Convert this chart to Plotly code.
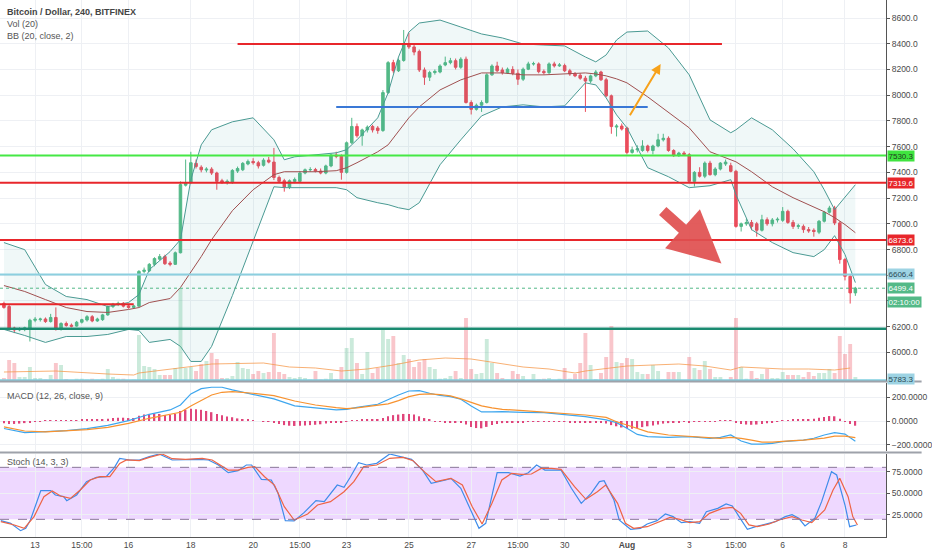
import plotly.graph_objects as go
import pandas as pd

# BTC/USD Bitfinex, 4h candles, 12 Jul - 8 Aug 2018
start = pd.Timestamp("2018-07-12 03:00")

def at(idx):
    # candle index -> candle time
    return [start + pd.Timedelta(hours=4 * k) for k in idx]

opens = [6381, 6357, 6190, 6175, 6178, 6190, 6250, 6255, 6260, 6240,
         6272, 6180, 6225, 6212, 6205, 6235, 6252, 6278, 6245, 6255,
         6292, 6357, 6372, 6382, 6362, 6350, 6360, 6630, 6635, 6685,
         6725, 6745, 6695, 6685, 6775, 7300, 7320, 7470, 7440, 7418,
         7425, 7395, 7335, 7325, 7320, 7410, 7420, 7465, 7485, 7475,
         7455, 7495, 7480, 7360, 7335, 7285, 7330, 7330, 7395, 7420,
         7422, 7410, 7395, 7450, 7535, 7525, 7400, 7630, 7757, 7685,
         7730, 7757, 7745, 7725, 8020, 8253, 8190, 8270, 8400, 8375,
         8340, 8196, 8140, 8176, 8180, 8235, 8253, 8268, 8217, 8280,
         7943, 7890, 7922, 7943, 8158, 8227, 8196, 8175, 8200, 8170,
         8124, 8202, 8243, 8243, 8185, 8175, 8243, 8228, 8230, 8190,
         8165, 8155, 8132, 8110, 8150, 8180, 8120, 7995, 7752, 7760,
         7745, 7555, 7575, 7570, 7605, 7570, 7605, 7653, 7665, 7570,
         7530, 7550, 7537, 7330, 7400, 7370, 7472, 7382, 7426, 7465,
         7452, 7408, 6980, 7000, 7010, 7000, 6950, 7032, 7000, 7030,
         7027, 7097, 7011, 6980, 6980, 6955, 6950, 6935, 7020, 7090,
         7123, 7007, 6722, 6592, 6463]
highs = [6395, 6370, 6200, 6195, 6200, 6262, 6275, 6270, 6272, 6300,
         6350, 6235, 6240, 6225, 6245, 6262, 6290, 6290, 6270, 6300,
         6365, 6385, 6395, 6392, 6375, 6370, 6640, 6660, 6695, 6740,
         6765, 6760, 6710, 6785, 7330, 7500, 7560, 7500, 7455, 7440,
         7440, 7405, 7350, 7345, 7425, 7445, 7480, 7500, 7510, 7490,
         7510, 7520, 7590, 7375, 7350, 7345, 7360, 7410, 7430, 7440,
         7435, 7430, 7460, 7545, 7560, 7540, 7640, 7824, 7780, 7740,
         7765, 7770, 7760, 8040, 8265, 8275, 8285, 8507, 8484, 8390,
         8355, 8215, 8190, 8200, 8240, 8300, 8290, 8285, 8295, 8300,
         7960, 7935, 7960, 8170, 8240, 8260, 8215, 8215, 8225, 8200,
         8215, 8260, 8260, 8255, 8200, 8255, 8260, 8250, 8245, 8205,
         8180, 8170, 8150, 8160, 8195, 8190, 8135, 8005, 7775, 7780,
         7755, 7600, 7610, 7650, 7615, 7615, 7700, 7700, 7680, 7580,
         7560, 7565, 7550, 7410, 7440, 7485, 7490, 7440, 7480, 7500,
         7475, 7420, 7010, 7040, 7030, 7015, 7070, 7050, 7045, 7050,
         7130, 7110, 7030, 7000, 6995, 6975, 6965, 7030, 7100, 7140,
         7140, 7020, 6735, 6600, 6510]
lows = [6340, 6170, 6150, 6165, 6165, 6085, 6235, 6240, 6230, 6232,
        6170, 6170, 6200, 6195, 6200, 6225, 6240, 6235, 6238, 6245,
        6285, 6345, 6360, 6350, 6340, 6338, 6355, 6615, 6625, 6670,
        6715, 6680, 6670, 6680, 6770, 7290, 7310, 7430, 7400, 7400,
        7380, 7265, 7310, 7305, 7310, 7395, 7410, 7455, 7460, 7430,
        7445, 7470, 7340, 7320, 7250, 7270, 7315, 7320, 7385, 7405,
        7400, 7385, 7385, 7440, 7510, 7343, 7390, 7620, 7670, 7607,
        7710, 7710, 7700, 7715, 8010, 8170, 8180, 8260, 8360, 8310,
        8180, 8080, 8110, 8160, 8170, 8225, 8240, 8200, 8205, 7935,
        7850, 7880, 7870, 7935, 8150, 8180, 8160, 8165, 8155, 8080,
        8110, 8195, 8230, 8170, 8160, 8165, 8215, 8220, 8180, 8150,
        8140, 8120, 7870, 8095, 8140, 8110, 7985, 7700, 7679, 7725,
        7540, 7545, 7555, 7560, 7555, 7540, 7595, 7640, 7560, 7520,
        7520, 7530, 7320, 7290, 7360, 7355, 7375, 7370, 7415, 7450,
        7400, 6970, 6940, 6985, 6950, 6900, 6940, 6985, 6980, 7010,
        7015, 7000, 6960, 6960, 6930, 6930, 6900, 6920, 7010, 7080,
        6990, 6690, 6560, 6380, 6440]
closes = [6350, 6186, 6175, 6185, 6192, 6250, 6258, 6260, 6240, 6272,
          6180, 6225, 6210, 6204, 6235, 6255, 6278, 6245, 6260, 6292,
          6357, 6375, 6382, 6360, 6350, 6362, 6630, 6640, 6685, 6730,
          6745, 6690, 6685, 6775, 7305, 7320, 7475, 7445, 7420, 7425,
          7395, 7330, 7325, 7330, 7415, 7430, 7470, 7485, 7475, 7450,
          7495, 7480, 7360, 7330, 7285, 7335, 7345, 7395, 7420, 7422,
          7410, 7395, 7450, 7535, 7525, 7400, 7630, 7757, 7685, 7730,
          7752, 7730, 7725, 8020, 8253, 8190, 8270, 8400, 8375, 8335,
          8196, 8140, 8176, 8185, 8227, 8253, 8268, 8217, 8280, 7943,
          7890, 7922, 7943, 8158, 8227, 8190, 8175, 8202, 8170, 8124,
          8202, 8243, 8245, 8183, 8175, 8243, 8228, 8235, 8190, 8165,
          8150, 8132, 8110, 8150, 8180, 8120, 7995, 7756, 7760, 7737,
          7555, 7575, 7583, 7605, 7570, 7605, 7653, 7665, 7570, 7530,
          7550, 7540, 7330, 7400, 7370, 7472, 7382, 7426, 7472, 7480,
          7408, 6980, 7000, 7010, 6980, 6950, 7032, 7000, 7030, 7035,
          7097, 7011, 6980, 6985, 6955, 6945, 6940, 7020, 7090, 7123,
          7007, 6722, 6592, 6463, 6499.4]
volume = [300, 2100, 1800, 400, 400, 1400, 300, 300, 150, 600,
          1800, 1600, 200, 100, 230, 230, 150, 230, 150, 230,
          1200, 400, 230, 230, 100, 150, 4600, 1500, 1400, 1200,
          600, 600, 600, 1300, 9300, 1300, 1400, 1000, 1700, 2000,
          2800, 2200, 300, 300, 500, 1900, 1300, 1200, 700, 1000,
          800, 900, 4800, 900, 700, 400, 300, 400, 300, 150,
          1000, 150, 230, 800, 200, 1400, 3300, 4300, 1800, 700,
          2900, 800, 1300, 5200, 4200, 4500, 1800, 2600, 2200, 1400,
          1900, 2200, 1400, 1200, 230, 300, 500, 1000, 300, 6300,
          1200, 700, 800, 4200, 1800, 800, 300, 150, 1000, 700,
          500, 100, 700, 200, 230, 300, 100, 230, 1300, 230,
          700, 1800, 4800, 1600, 200, 800, 2400, 5500, 1900, 1800,
          2300, 2200, 900, 700, 700, 1600, 1000, 150, 900, 900,
          900, 100, 2400, 1300, 1100, 2000, 1200, 400, 400, 100,
          400, 6300, 1400, 230, 1000, 300, 700, 1200, 300, 300,
          900, 600, 600, 600, 400, 900, 500, 800, 800, 1200,
          800, 4500, 2700, 3700, 400]

# Vol (20) moving average, sampled
vma_idx = [0, 10, 20, 25, 26, 34, 40, 50, 55, 60, 65, 70, 75, 80, 85, 90, 95,
           100, 105, 110, 112, 115, 120, 125, 130, 135, 140, 142, 145, 150, 155, 160, 163]
vma = [900, 1000, 700, 600, 800, 1300, 1700, 1800, 1400, 1300, 1000, 1200, 1600, 2100, 2300, 2200, 1800,
       1400, 1200, 800, 1000, 1200, 1500, 1600, 1700, 1500, 1100, 1400, 1300, 1200, 1200, 1100, 1300]

# BB (20, close, 2), sampled
bb_idx = [0, 4, 8, 12, 16, 20, 24, 26, 28, 32, 34, 36, 38, 40, 44, 48, 52, 54, 56, 60, 64, 66, 68,
          72, 74, 76, 78, 80, 84, 88, 92, 96, 100, 104, 108, 112, 114, 116, 118, 120, 124, 128,
          132, 136, 140, 141, 144, 148, 152, 156, 158, 160, 162, 164]
bb_upper = [6854, 6799, 6528, 6435, 6411, 6357, 6388, 6450, 6644, 6784, 6877, 7343, 7614, 7731, 7793,
            7824, 7653, 7498, 7521, 7537, 7552, 7576, 7653, 7824, 8018, 8297, 8491, 8561, 8584, 8530,
            8476, 8445, 8398, 8390, 8383, 8297, 8259, 8313, 8429, 8491, 8499, 8367, 8158, 7808, 7708,
            7731, 7824, 7731, 7583, 7405, 7265, 7110, 7203, 7304]
bb_basis = [6520, 6474, 6411, 6349, 6318, 6311, 6334, 6349, 6388, 6419, 6505, 6621, 6745, 6877, 7102,
            7265, 7382, 7405, 7405, 7405, 7413, 7436, 7475, 7560, 7614, 7715, 7824, 7909, 8041, 8119,
            8173, 8173, 8158, 8158, 8165, 8173, 8165, 8150, 8127, 8096, 7987, 7870, 7746, 7560, 7498,
            7482, 7405, 7288, 7203, 7133, 7094, 7048, 6994, 6931]
bb_lower = [6179, 6132, 6078, 6124, 6124, 6140, 6179, 6171, 6078, 6101, 6047, 5930, 5930, 6047, 6442,
            6862, 7288, 7281, 7281, 7281, 7281, 7265, 7203, 7164, 7149, 7125, 7110, 7164, 7459, 7653,
            7839, 7909, 7925, 7909, 7917, 8096, 8080, 7979, 7847, 7746, 7436, 7366, 7281, 7296, 7343,
            7226, 6955, 6854, 6776, 6745, 6799, 6908, 6761, 6543]

# MACD (12, 26, close, 9)
macd_idx = [0, 4, 8, 12, 16, 20, 24, 28, 32, 34, 36, 38, 40, 42, 44, 48, 52, 56, 60, 64, 66, 68, 72,
            74, 76, 78, 80, 82, 84, 86, 88, 90, 92, 94, 96, 100, 104, 108, 112, 116, 118, 120, 122,
            124, 128, 132, 136, 138, 140, 142, 144, 146, 148, 150, 152, 154, 156, 158, 160, 162, 164]
macd_line = [-64, -99, -91, -82, -65, -37, 3, 57, 94, 136, 230, 275, 287, 287, 264, 227, 188, 128, 108,
             94, 99, 116, 142, 185, 221, 255, 258, 236, 217, 207, 185, 128, 77, 77, 79, 74, 71, 54, 37,
             9, -14, -62, -114, -133, -139, -133, -147, -139, -119, -170, -196, -196, -190, -176, -170,
             -162, -147, -119, -99, -111, -173]
macd_signal = [-50, -85, -93, -82, -74, -54, -20, 23, 57, 74, 128, 173, 221, 244, 249, 236, 216, 170,
               136, 113, 105, 111, 130, 145, 173, 207, 227, 230, 225, 213, 188, 156, 128, 111, 99, 88,
               77, 65, 51, 31, -6, -34, -65, -93, -119, -130, -145, -147, -139, -147, -162, -179, -179,
               -176, -167, -162, -156, -145, -128, -128, -142]
macd_hist = [-20, -25, -25, -22, -18, -12, -8, -5, 2, 4, 3, 5, 6, 6, 8, 10, 12, 12, 14, 16, 20,
             25, 28, 28, 25, 25, 45, 55, 60, 62, 60, 52, 50, 60, 85, 95, 105, 100, 95, 85, 75,
             60, 48, 38, 32, 22, 15, 10, 5, 0, -5, -8, -15, -25, -35, -40, -42, -40, -38, -35, -32,
             -28, -22, -15, -10, -10, -3, 5, 8, 10, 12, 12, 15, 25, 40, 50, 55, 60, 60, 55, 40,
             25, 10, -3, -8, -12, -15, -15, -15, -30, -50, -60, -62, -50, -35, -25, -18, -15, -12, -15,
             -10, -5, -3, -5, -3, -2, -3, -5, -8, -10, -12, -12, -15, -14, -12, -15, -22, -35, -45, -55,
             -62, -65, -60, -52, -45, -38, -30, -22, -18, -15, -10, -8, -10, -8, -5, -3, -3, -2, 2, 5,
             6, -10, -25, -30, -32, -30, -25, -20, -12, -5, 5, 8, 10, 12, 14, 16, 20, 28, 35, 42,
             40, 20, -5, -25, -40]

# Stoch (14, 3, 3)
k_idx = [-0.6, 1.3, 3.2, 4.2, 5.1, 6.1, 7.1, 9.0, 9.9, 11.5, 12.1, 14.0, 15.9, 17.8, 19.7, 21.3, 22.3,
         24.2, 26.1, 28.0, 29.9, 32.4, 35.0, 37.5, 39.4, 41.3, 43.2, 45.1, 46.7, 47.7, 49.6, 51.5, 52.8,
         54.2, 55.9, 57.8, 60.1, 61.7, 64.2, 65.5, 66.7, 68.3, 69.9, 71.8, 74.3, 76.9, 78.5, 80.7, 82.3,
         85.1, 86.1, 88.0, 89.6, 91.5, 92.8, 95.0, 97.2, 99.4, 101.0, 102.6, 104.2, 107.3, 109.3, 111.2,
         113.1, 114.7, 115.6, 117.5, 118.5, 120.7, 122.6, 123.9, 125.8, 127.4, 128.9, 130.5, 132.1,
         134.0, 135.3, 137.5, 139.1, 140.3, 141.6, 143.2, 144.8, 146.7, 148.6, 150.5, 151.8, 153.1,
         154.3, 156.2, 157.5, 159.4, 160.4, 162.0, 162.9, 164.2]
k_val = [18.5, 15.4, 6.9, 9.6, 19.2, 36.5, 53.1, 53.1, 48.1, 46.2, 41.5, 48.1, 63.5, 68.5, 69.2, 80.0,
         90.4, 88.5, 88.5, 92.3, 95.4, 88.5, 89.2, 89.2, 88.5, 82.7, 73.8, 76.2, 82.7, 82.7, 66.2, 65.4,
         50.0, 18.5, 18.1, 27.7, 41.5, 40.4, 59.6, 56.9, 68.5, 85.4, 82.7, 84.6, 95.4, 91.5, 89.2, 76.2,
         61.5, 65.4, 67.3, 55.8, 34.6, 9.6, 15.4, 73.8, 73.8, 70.0, 73.8, 82.7, 76.9, 76.9, 55.8, 38.5,
         50.0, 63.5, 64.6, 42.3, 19.2, 8.5, 9.6, 14.6, 18.5, 26.2, 23.1, 16.2, 17.3, 15.4, 28.8, 32.7,
         37.7, 35.4, 23.1, 8.5, 11.5, 14.6, 17.3, 23.1, 25.4, 21.2, 12.3, 21.2, 40.4, 75.0, 71.2, 36.5,
         11.5, 13.5]
d_idx = [-0.6, 2.0, 3.9, 5.8, 7.7, 9.3, 10.9, 12.8, 14.7, 16.6, 18.5, 20.4, 22.3, 23.6, 26.1, 28.0,
         30.5, 32.4, 35.0, 38.2, 40.1, 43.2, 45.1, 47.0, 48.3, 50.2, 52.1, 54.0, 55.9, 58.5, 60.4, 62.9,
         65.5, 67.4, 69.3, 71.8, 74.3, 76.9, 78.8, 81.3, 83.2, 85.1, 86.1, 88.3, 90.2, 92.1, 94.0, 95.9,
         97.8, 99.7, 101.6, 103.5, 105.5, 107.3, 109.9, 112.1, 114.3, 115.9, 118.2, 119.7, 121.3, 123.9,
         126.4, 128.3, 130.2, 132.1, 134.0, 135.9, 138.4, 140.3, 141.9, 143.5, 145.1, 147.4, 149.3,
         151.8, 153.7, 155.6, 158.1, 159.7, 161.0, 162.6, 163.5, 164.4]
d_val = [17.3, 13.5, 9.6, 23.1, 46.2, 52.7, 46.9, 44.2, 53.8, 65.4, 69.2, 69.2, 84.6, 88.5, 87.7, 91.5,
         95.4, 90.0, 89.2, 90.4, 88.5, 76.9, 76.9, 80.0, 80.8, 69.2, 59.6, 34.6, 19.2, 26.2, 36.5, 40.4,
         51.9, 63.5, 80.8, 82.7, 90.4, 91.5, 87.7, 73.1, 63.5, 66.2, 67.3, 59.6, 34.6, 14.6, 38.5, 65.4,
         73.1, 71.9, 72.3, 78.8, 78.8, 77.7, 57.7, 43.1, 51.9, 59.6, 38.5, 15.4, 9.6, 11.5, 17.3, 22.3,
         20.0, 16.2, 17.3, 26.9, 32.7, 33.8, 26.9, 13.5, 11.5, 14.6, 19.2, 23.1, 19.2, 16.2, 30.8, 53.8,
         67.3, 46.2, 23.1, 13.5]

# x tick labels
tick_idx = [6, 15, 24, 36, 48, 57, 66, 78, 90, 99, 108, 120, 132, 141, 150, 162]
tick_text = ["13", "15:00", "16", "18", "20", "15:00", "23", "25", "27", "15:00", "30",
             "<b>Aug</b>", "3", "15:00", "6", "8"]
# price scale; 6400 and 6600 sit under the price tags, so their text is hidden there
price_ticks = [6000, 6200, 6400, 6600, 6800, 7000, 7200, 7400, 7600, 7800, 8000, 8200, 8400, 8600]
price_text = ["6000.0", "6200.0", "", "", "6800.0", "7000.0", "7200.0", "7400.0", "7600.0",
              "7800.0", "8000.0", "8200.0", "8400.0", "8600.0"]

UP = "#53b987"
DOWN = "#eb4d5c"
FONT = "Liberation Sans"
TXT = "#4a4a4a"
GRID = "#eef0f4"

n = len(closes)
xs = at(range(n))
vol_colors = ["rgba(83,185,135,0.30)" if c >= o else "rgba(235,77,92,0.32)" for o, c in zip(opens, closes)]
hist_width = 4 * 3600 * 1000 * 0.3
bar_width = 4 * 3600 * 1000 * 0.75

fig = go.Figure()

# bollinger bands
fig.add_trace(go.Scatter(x=at(bb_idx), y=bb_upper, mode="lines", line=dict(color="#4a9a93", width=1), yaxis="y"))
fig.add_trace(go.Scatter(x=at(bb_idx), y=bb_lower, mode="lines", line=dict(color="#4a9a93", width=1),
                         fill="tonexty", fillcolor="rgba(40,160,150,0.07)", yaxis="y"))
fig.add_trace(go.Scatter(x=at(bb_idx), y=bb_basis, mode="lines", line=dict(color="#a05050", width=1), yaxis="y"))

fig.add_trace(go.Candlestick(
    x=xs, open=opens, high=highs, low=lows, close=closes, yaxis="y",
    increasing=dict(line=dict(color=UP, width=1), fillcolor=UP),
    decreasing=dict(line=dict(color=DOWN, width=1), fillcolor=DOWN),
    whiskerwidth=0,
))

# volume overlay
fig.add_trace(go.Bar(x=xs, y=volume, marker=dict(color=vol_colors, line=dict(width=0)), width=bar_width, yaxis="y2"))
fig.add_trace(go.Scatter(x=at(vma_idx), y=vma, mode="lines", line=dict(color="rgba(245,150,70,0.75)", width=1), yaxis="y2"))

# MACD
fig.add_trace(go.Bar(x=xs, y=macd_hist, marker=dict(color="#e0457b", line=dict(width=0)), width=hist_width, yaxis="y3"))
fig.add_trace(go.Scatter(x=at(macd_idx), y=macd_line, mode="lines", line=dict(color="#3ea6ee", width=1.2), yaxis="y3"))
fig.add_trace(go.Scatter(x=at(macd_idx), y=macd_signal, mode="lines", line=dict(color="#f7922f", width=1.2), yaxis="y3"))

# Stochastic
fig.add_trace(go.Scatter(x=at(k_idx), y=k_val, mode="lines", line=dict(color="#3f8cea", width=1.2), yaxis="y4"))
fig.add_trace(go.Scatter(x=at(d_idx), y=d_val, mode="lines", line=dict(color="#ee6445", width=1.2), yaxis="y4"))

shapes = []
def hline(y, color, width=2, x0=None, x1=None, dash="solid"):
    if x0 is None:
        shapes.append(dict(type="line", xref="paper", x0=0, x1=1, yref="y", y0=y, y1=y,
                           line=dict(color=color, width=width, dash=dash)))
    else:
        shapes.append(dict(type="line", xref="x", x0=at([x0])[0], x1=at([x1])[0], yref="y", y0=y, y1=y,
                           line=dict(color=color, width=width, dash=dash)))

hline(8398, "#e8262b", x0=45, x1=138.3)
hline(7909, "#3a78d6", x0=64, x1=124)
hline(7530.3, "#45e845")
hline(7319.6, "#e8262b")
hline(6873.6, "#e8262b")
hline(6606.4, "#8ccfdf")
hline(6499.4, UP, width=1, dash="dot")
hline(6185, "#1a8a70", width=2.5)
hline(6375, "#e8262b", x0=-0.8, x1=25)
hline(5783.3, "#7fcfe0")

# stoch band and levels
shapes.append(dict(type="rect", xref="paper", x0=0, x1=1, yref="y4", y0=20, y1=80,
                   fillcolor="rgba(153,21,255,0.17)", line=dict(width=0), layer="below"))
for lv in (20, 80):
    shapes.append(dict(type="line", xref="paper", x0=0, x1=1, yref="y4", y0=lv, y1=lv,
                       line=dict(color="#8a7898", width=1, dash="dash")))

# pane separators
for py in (1 - 381.5 / 537, 1 - 452.5 / 537):
    shapes.append(dict(type="line", xref="paper", x0=0, x1=932 / 896, yref="paper", y0=py, y1=py,
                       line=dict(color="#9ea2aa", width=2)))

annotations = []
def label(text, y, x=5, size=9, color="#555", bold=False):
    annotations.append(dict(text=f"<b>{text}</b>" if bold else text, xref="paper", yref="paper",
                            x=x / 896, y=1 - y / 537, xanchor="left", yanchor="middle", showarrow=False,
                            font=dict(family=FONT, size=size, color=color)))

label("Bitcoin / Dollar, 240, BITFINEX", 12, bold=True, color="#444")
label("Vol (20)", 24)
label("BB (20, close, 2)", 36)
label("MACD (12, 26, close, 9)", 396)
label("Stoch (14, 3, 3)", 462)

def tag(text, y, bg, fg="white"):
    annotations.append(dict(text=text, xref="paper", x=1, xanchor="left", xshift=1, yref="y", y=y,
                            yanchor="middle", showarrow=False, bgcolor=bg, borderpad=0.5,
                            font=dict(family=FONT, size=8, color=fg)))

tag("7530.3", 7530.3, "#3fe43f", "#1e3a1e")
tag("7319.6", 7319.6, "#e8262b")
tag("6873.6", 6873.6, "#e8262b")
tag("6606.4", 6612, "#9dd3e3", "#2c4a55")
tag("6499.4", 6499.4, UP)
tag("02:10:00", 6392, UP)
tag("5783.3", 5790, "#9dd3e3", "#2c4a55")

# drawings: orange arrow and big red arrow
annotations.append(dict(x=at([126.5])[0], y=8243, ax=at([120.4])[0], ay=7832, xref="x", yref="y",
                        axref="x", ayref="y", text="", showarrow=True, arrowhead=2, arrowsize=1,
                        arrowwidth=2, arrowcolor="#f7a21b", standoff=0))
annotations.append(dict(x=at([138.2])[0], y=6691, ax=at([126.6])[0], ay=7110, xref="x", yref="y",
                        axref="x", ayref="y", text="", showarrow=True, arrowhead=2, arrowsize=0.95,
                        arrowwidth=11, arrowcolor="rgba(224,80,80,0.92)", standoff=0))

axis_font = dict(family=FONT, size=8.5, color=TXT)
yax = dict(side="right", showline=True, linecolor="#555", linewidth=1, ticks="outside", ticklen=3,
           tickcolor="#555", gridcolor=GRID, tickfont=axis_font, zeroline=False, fixedrange=True)

fig.update_layout(
    width=932, height=550,
    margin=dict(l=0, r=36, t=0, b=13),
    paper_bgcolor="white", plot_bgcolor="white",
    showlegend=False, hovermode=False,
    shapes=shapes, annotations=annotations,
    xaxis=dict(type="date", range=at([-0.76, 169.9]), tickvals=at(tick_idx), ticktext=tick_text,
               showgrid=True, gridcolor=GRID, tickfont=axis_font, showline=True, linecolor="#555",
               anchor="y4", rangeslider=dict(visible=False), ticks="", fixedrange=True),
    yaxis=dict(domain=[1 - 381 / 537, 1], range=[5778, 8740], tickvals=price_ticks, ticktext=price_text, **yax),
    yaxis2=dict(domain=[1 - 381 / 537, 1], overlaying="y", range=[0, 38100], visible=False),
    yaxis3=dict(domain=[1 - 451 / 537, 1 - 383 / 537], range=[-255, 323], tickvals=[-200, 0, 200],
                tickformat=".4f", **yax),
    yaxis4=dict(domain=[0, 1 - 454 / 537], range=[-0.4, 95.4], tickvals=[25, 50, 75],
                tickformat=".4f", **yax),
)

# the page body has a default margin; drop it so the chart sits at the window corner
fig.write_html("out.html", config={"displayModeBar": False},
               post_script="document.body.style.margin='0';")
